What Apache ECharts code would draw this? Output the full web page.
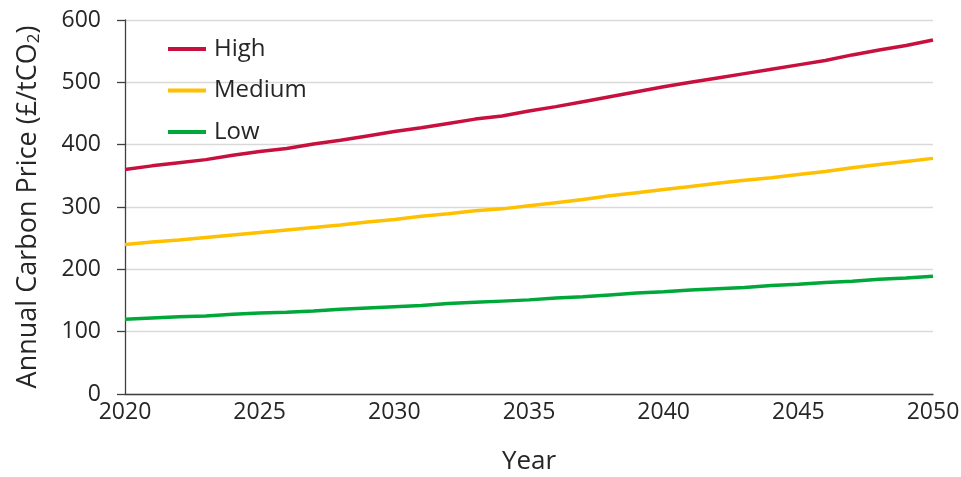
<!DOCTYPE html>
<html>
<head>
<meta charset="utf-8">
<script src="https://cdn.jsdelivr.net/npm/echarts@6/dist/echarts.min.js"></script>
<style>html,body{margin:0;padding:0;background:#fff;}#c{width:961px;height:477px;}</style>
</head>
<body>
<div id="c"></div>
<script>
const years = [2020,2021,2022,2023,2024,2025,2026,2027,2028,2029,2030,2031,2032,2033,2034,2035,2036,2037,2038,2039,2040,2041,2042,2043,2044,2045,2046,2047,2048,2049,2050];
const high = [360,366,371,376,383,389,394,401,407,414,421,427,434,441,446,454,461,469,477,485,493,500,507,514,521,528,535,544,552,559,568];
const medium = [240,244,247,251,255,259,263,267,271,276,280,285,289,294,297,302,307,312,318,323,328,333,338,343,347,352,357,363,368,373,378];
const low = [120,122,124,125,128,130,131,133,136,138,140,142,145,147,149,151,154,156,159,162,164,167,169,171,174,176,179,181,184,186,189];
const seriesNames = ['High','Medium','Low'];
const yTicks = [0,100,200,300,400,500,600];
const xTicks = [2020,2025,2030,2035,2040,2045,2050];

const FONT = '"Open Sans", sans-serif';
const colors = ['#C8103E','#FFC000','#00A83A'];
const values = [high, medium, low];

const chart = echarts.init(document.getElementById('c'), null, {renderer:'canvas'});
chart.setOption({
  animation:false,
  backgroundColor:'#ffffff',
  textStyle:{fontFamily:FONT},
  grid:{left:125, right:28, top:20, bottom:83, containLabel:false, outerBoundsMode:'none'},
  legend:{
    orient:'vertical', left:168, top:37, padding:0,
    icon:'rect', itemWidth:38, itemHeight:4, itemGap:17.5,
    textStyle:{fontFamily:FONT, fontSize:24, color:'#262626', lineHeight:22, padding:[0,0,0,3]},
    data:seriesNames
  },
  xAxis:{
    type:'value', min:xTicks[0], max:xTicks[xTicks.length-1], interval:5,
    name:'Year', nameLocation:'middle', nameGap:55,
    nameTextStyle:{fontFamily:FONT, fontSize:26, color:'#262626'},
    axisLine:{show:true, lineStyle:{color:'#404040', width:1.3}},
    axisTick:{show:false},
    splitLine:{show:false},
    axisLabel:{fontFamily:FONT, fontSize:23, color:'#262626', margin:7, formatter:v=>String(v)}
  },
  yAxis:{
    type:'value', min:yTicks[0], max:yTicks[yTicks.length-1], interval:100,
    name:'{a|Annual Carbon Price (£/tCO}{s|2}{a|)}', nameLocation:'middle', nameRotate:90, nameGap:80,
    nameTextStyle:{
      rich:{
        a:{fontFamily:FONT, fontSize:27, color:'#262626', lineHeight:34, verticalAlign:'middle'},
        s:{fontFamily:FONT, fontSize:17, color:'#262626', lineHeight:34, verticalAlign:'bottom', padding:[0,0,2,0]}
      }
    },
    axisLine:{show:true, lineStyle:{color:'#404040', width:1.3}},
    axisTick:{show:true, length:8, lineStyle:{color:'#404040', width:1.3}},
    splitLine:{show:true, lineStyle:{color:'#d9d9d9', width:1.3}},
    axisLabel:{fontFamily:FONT, fontSize:23, color:'#262626', margin:24}
  },
  series: seriesNames.map((n,i)=>({
    name:n, type:'line', showSymbol:false, symbol:'none',
    lineStyle:{color:colors[i], width:3.5},
    itemStyle:{color:colors[i]},
    data: years.map((y,j)=>[y, values[i][j]])
  }))
});
</script>
</body>
</html>
